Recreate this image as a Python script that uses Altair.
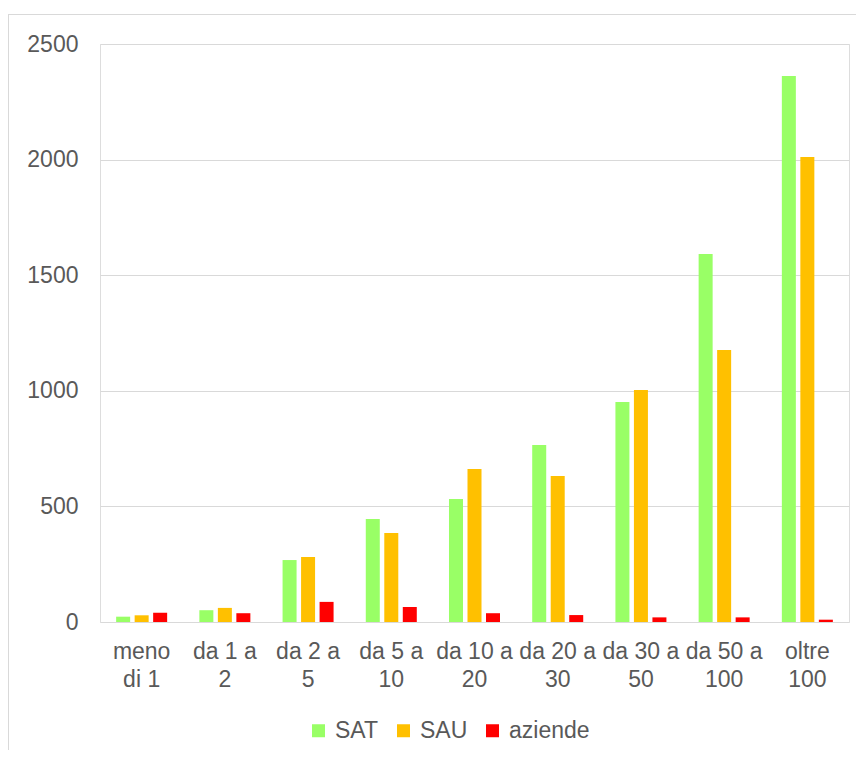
import altair as alt
import pandas as pd

categories = ["meno di 1", "da 1 a 2", "da 2 a 5", "da 5 a 10", "da 10 a 20",
              "da 20 a 30", "da 30 a 50", "da 50 a 100", "oltre 100"]
series = ["SAT", "SAU", "aziende"]
sat = [23, 51, 268, 446, 532, 766, 952, 1592, 2362]
sau = [29, 61, 281, 385, 662, 632, 1003, 1176, 2011]
aziende = [40, 38, 87, 65, 38, 30, 20, 20, 10]
colors = ["#99FF66", "#FFC000", "#FF0000"]
y_ticks = [0, 500, 1000, 1500, 2000, 2500]

rows = []
for s, vals in zip(series, [sat, sau, aziende]):
    for c, v in zip(categories, vals):
        rows.append({"categoria": c, "serie": s, "valore": v})
df = pd.DataFrame(rows)

W, H = 749, 578
FONT = "Liberation Sans"
TXT = "#595959"

label_expr = (
    "datum.label == 'meno di 1' ? ['meno', 'di 1'] : "
    "[slice(datum.label, 0, lastindexof(datum.label, ' ')), "
    "slice(datum.label, lastindexof(datum.label, ' ') + 1)]"
)

bars = alt.Chart(df).mark_bar().encode(
    x=alt.X("categoria:N", sort=categories, title=None,
            scale=alt.Scale(paddingInner=0.387, paddingOuter=0.194),
            axis=alt.Axis(labelAngle=0, ticks=False, domain=False, grid=False,
                          labelExpr=label_expr, labelLineHeight=28,
                          labelPadding=18, labelFontSize=23, labelColor=TXT,
                          labelFont=FONT, labelBaseline="top")),
    xOffset=alt.XOffset("serie:N", sort=series,
                        scale=alt.Scale(paddingInner=0.243, paddingOuter=0)),
    y=alt.Y("valore:Q", title=None,
            scale=alt.Scale(domain=[0, 2500], nice=False),
            axis=alt.Axis(values=y_ticks, format="d", ticks=False, domain=False,
                          gridColor="#d9d9d9", gridWidth=1,
                          labelPadding=22, labelFontSize=23, labelColor=TXT,
                          labelFont=FONT)),
    color=alt.Color("serie:N", sort=series,
                    scale=alt.Scale(domain=series, range=colors),
                    legend=alt.Legend(title=None, orient="none", direction="horizontal",
                                      legendX=207, legendY=675,
                                      symbolType="square", symbolSize=169,
                                      symbolStrokeWidth=0, symbolOpacity=1,
                                      labelFontSize=23, labelColor=TXT, labelFont=FONT,
                                      labelOffset=5, columnPadding=13, padding=0)),
)

one = alt.Data(values=[{"k": 1}])
border_top = alt.Chart(one).mark_rule(color="#d9d9d9", strokeWidth=1).encode(
    x=alt.value(-92), x2=alt.value(W + 20), y=alt.value(-29.5))
border_left = alt.Chart(one).mark_rule(color="#d9d9d9", strokeWidth=1).encode(
    x=alt.value(-91.5), y=alt.value(-30), y2=alt.value(H + 140))

chart = alt.layer(border_top, border_left, bars).properties(
    width=W, height=H,
    autosize=alt.AutoSizeParams(type="none"),
    padding={"left": 92, "top": 36, "right": 7, "bottom": 128},
).configure_view(stroke=None).configure(background="white")

chart.save("out.html", embed_options={"renderer": "svg", "actions": False})
